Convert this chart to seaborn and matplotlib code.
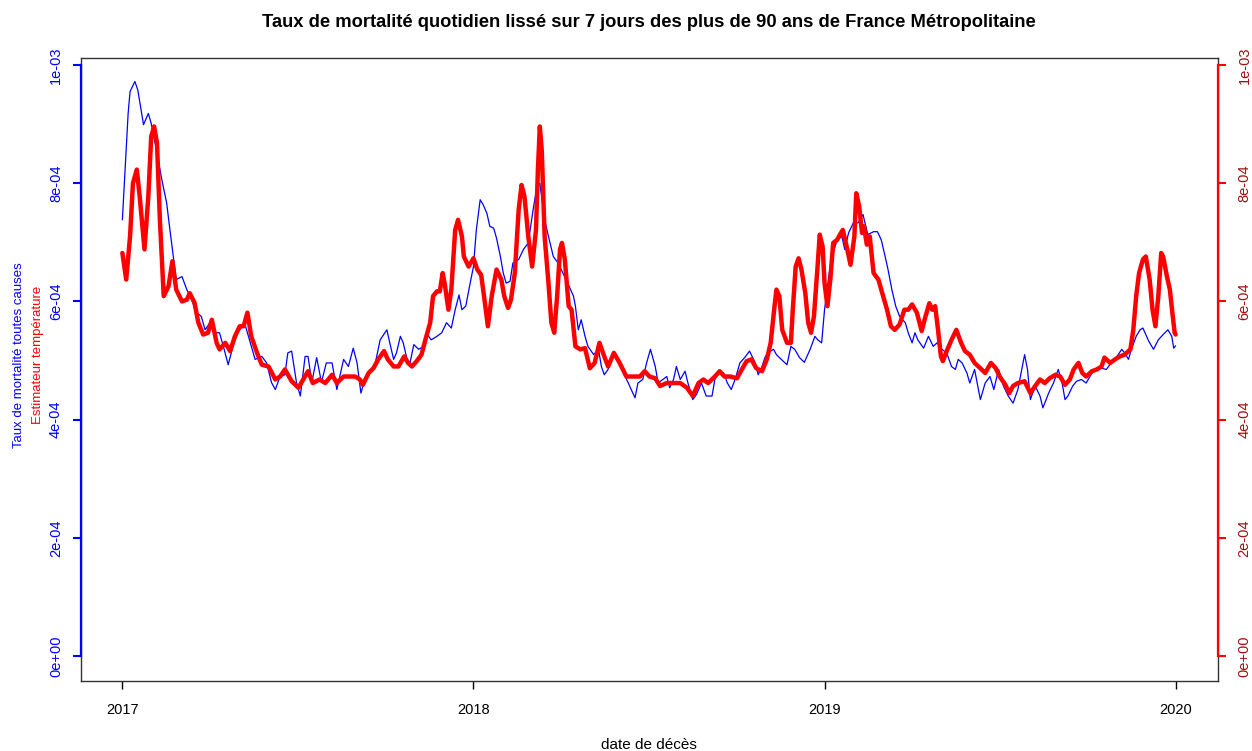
import pandas as pd
import numpy as np
import matplotlib
matplotlib.use('Agg')
import matplotlib.pyplot as plt
import matplotlib.dates as mdates
import seaborn as sns

# values, in units of 1e-4, days counted from 2017-01-01
SCALE = 1e-4
START = pd.Timestamp('2017-01-01')

mort_days = [0, 6, 8, 13, 16, 22, 27, 30, 36, 41, 46, 49, 53, 56, 62, 67, 72, 77, 82, 86,
             91, 96, 101, 105, 110, 115, 120, 127, 133, 138, 145, 150, 155, 159, 164, 169, 172, 176, 181, 185,
             190, 193, 197, 202, 207, 212, 218, 223, 230, 235, 240, 244, 248, 252, 257, 263, 268, 275, 278, 282,
             285, 289, 292, 296, 299, 303, 308, 313, 316, 321, 327, 332, 337, 342, 346, 350, 353, 357, 361, 365,
             368, 372, 375, 379, 382, 386, 389, 393, 396, 399, 403, 406, 412, 417, 422, 427, 431, 434, 439, 443,
             448, 453, 458, 463, 469, 471, 474, 477, 481, 484, 490, 495, 498, 501, 505, 510, 516, 521, 526, 529,
             533, 536, 541, 545, 549, 554, 557, 562, 566, 569, 573, 576, 580, 585, 588, 593, 597, 602, 607, 613,
             616, 621, 625, 629, 633, 637, 642, 647, 652, 658, 661, 665, 668, 671, 677, 680, 685, 691, 695, 699,
             704, 709, 715, 720, 723, 727, 730, 734, 737, 743, 748, 751, 755, 760, 765, 770, 775, 781, 785, 789,
             793, 796, 800, 804, 808, 814, 817, 821, 824, 827, 833, 838, 843, 847, 852, 857, 862, 866, 869, 873,
             878, 881, 886, 892, 897, 902, 906, 911, 916, 921, 926, 931, 935, 938, 941, 944, 949, 954, 957, 963,
             968, 973, 977, 980, 983, 988, 992, 997, 1002, 1008, 1013, 1018, 1023, 1028, 1034, 1039, 1042, 1046, 1049, 1054,
             1058, 1061, 1067, 1072, 1077, 1082, 1087, 1091, 1093, 1095]
mort_vals = [7.38, 9.18, 9.55, 9.72, 9.58, 8.99, 9.18, 9.01, 8.51, 8.06, 7.67, 7.27, 6.76, 6.37, 6.42, 6.20, 6.03, 5.81, 5.75, 5.52,
             5.64, 5.47, 5.47, 5.24, 4.93, 5.24, 5.47, 5.64, 5.30, 5.02, 5.07, 4.96, 4.63, 4.51, 4.73, 4.76, 5.13, 5.16, 4.63, 4.40,
             5.07, 5.07, 4.63, 5.05, 4.63, 4.96, 4.96, 4.51, 5.02, 4.90, 5.21, 4.96, 4.45, 4.68, 4.79, 4.96, 5.35, 5.52, 5.30, 5.02,
             5.13, 5.41, 5.30, 5.02, 4.96, 5.27, 5.19, 5.24, 5.47, 5.35, 5.41, 5.47, 5.64, 5.55, 5.86, 6.11, 5.86, 5.92, 6.26, 6.59,
             7.21, 7.72, 7.64, 7.49, 7.27, 7.24, 7.07, 6.76, 6.48, 6.31, 6.34, 6.65, 6.71, 6.88, 6.99, 7.55, 7.94, 8.00, 7.38, 7.10,
             6.76, 6.65, 6.48, 6.31, 6.09, 5.92, 5.52, 5.69, 5.41, 5.24, 5.10, 5.19, 4.90, 4.76, 4.85, 5.13, 4.96, 4.79, 4.62, 4.51,
             4.37, 4.62, 4.68, 4.96, 5.19, 4.90, 4.62, 4.68, 4.73, 4.54, 4.68, 4.90, 4.68, 4.82, 4.62, 4.34, 4.43, 4.62, 4.40, 4.40,
             4.68, 4.82, 4.79, 4.62, 4.51, 4.68, 4.96, 5.05, 5.16, 4.96, 4.76, 4.90, 5.05, 5.13, 5.19, 5.10, 5.02, 4.93, 5.24, 5.19,
             5.05, 4.97, 5.19, 5.41, 5.35, 5.30, 5.86, 6.37, 6.71, 7.04, 7.10, 6.88, 7.16, 7.33, 7.33, 7.47, 7.13, 7.18, 7.18, 7.04,
             6.76, 6.54, 6.20, 5.92, 5.75, 5.64, 5.47, 5.30, 5.47, 5.35, 5.21, 5.41, 5.24, 5.30, 5.19, 5.13, 4.90, 4.85, 5.02, 4.96,
             4.79, 4.62, 4.85, 4.34, 4.62, 4.73, 4.51, 4.85, 4.57, 4.40, 4.28, 4.51, 4.85, 5.10, 4.85, 4.34, 4.57, 4.40, 4.20, 4.45,
             4.62, 4.85, 4.62, 4.34, 4.40, 4.57, 4.65, 4.68, 4.62, 4.79, 4.85, 4.87, 4.85, 4.96, 5.07, 5.19, 5.13, 5.02, 5.19, 5.41,
             5.52, 5.55, 5.33, 5.19, 5.35, 5.44, 5.52, 5.41, 5.21, 5.25]

temp_days = [0, 4, 8, 11, 15, 18, 23, 27, 30, 33, 36, 39, 43, 48, 52, 56, 62, 67, 70, 75,
             79, 84, 89, 93, 98, 101, 107, 112, 117, 122, 126, 130, 134, 140, 145, 152, 159, 164, 169, 176,
             183, 188, 193, 198, 205, 211, 218, 223, 230, 237, 242, 247, 250, 256, 261, 266, 272, 276, 282, 287,
             293, 297, 301, 306, 311, 315, 320, 323, 327, 330, 333, 335, 339, 342, 346, 349, 353, 355, 360, 365,
             369, 373, 376, 380, 384, 389, 394, 397, 401, 404, 408, 412, 415, 418, 422, 426, 430, 432, 434, 436,
             439, 443, 446, 449, 452, 455, 457, 460, 464, 467, 471, 476, 481, 486, 491, 496, 501, 505, 511, 517,
             524, 531, 538, 543, 548, 554, 559, 566, 573, 580, 587, 593, 599, 604, 609, 616, 621, 626, 632, 639,
             644, 649, 654, 659, 665, 670, 674, 678, 680, 683, 686, 691, 695, 697, 700, 703, 706, 710, 713, 716,
             719, 723, 725, 728, 730, 733, 736, 739, 743, 746, 749, 753, 757, 761, 763, 766, 769, 771, 774, 777,
             781, 786, 790, 795, 799, 803, 808, 813, 817, 821, 826, 831, 835, 839, 842, 845, 848, 851, 853, 857,
             862, 867, 872, 876, 881, 886, 892, 897, 903, 908, 912, 918, 922, 926, 931, 938, 944, 949, 954, 959,
             964, 970, 975, 980, 985, 989, 994, 998, 1002, 1008, 1013, 1018, 1021, 1027, 1032, 1037, 1042, 1048, 1051, 1054,
             1057, 1061, 1064, 1068, 1071, 1074, 1077, 1080, 1082, 1086, 1089, 1092, 1094, 1095]
temp_vals = [6.82, 6.37, 7.10, 8.00, 8.23, 7.78, 6.88, 7.78, 8.79, 8.96, 8.68, 7.38, 6.09, 6.26, 6.68, 6.20, 6.00, 6.03, 6.14, 5.98,
             5.64, 5.44, 5.47, 5.69, 5.30, 5.19, 5.30, 5.16, 5.41, 5.58, 5.58, 5.81, 5.41, 5.13, 4.93, 4.90, 4.68, 4.73, 4.85, 4.65,
             4.54, 4.68, 4.82, 4.62, 4.68, 4.62, 4.76, 4.62, 4.73, 4.73, 4.73, 4.68, 4.59, 4.79, 4.87, 5.02, 5.16, 5.02, 4.90, 4.90,
             5.07, 4.96, 4.90, 4.99, 5.10, 5.35, 5.64, 6.09, 6.17, 6.17, 6.48, 6.31, 5.86, 6.20, 7.21, 7.38, 7.10, 6.76, 6.59, 6.73,
             6.54, 6.45, 6.09, 5.58, 6.09, 6.54, 6.37, 6.09, 5.89, 6.03, 6.48, 7.55, 7.97, 7.78, 7.10, 6.59, 7.21, 8.23, 8.96, 8.56,
             7.10, 6.31, 5.64, 5.47, 6.09, 6.88, 6.99, 6.71, 5.92, 5.86, 5.24, 5.19, 5.21, 4.87, 4.96, 5.30, 5.07, 4.90, 5.13, 4.96,
             4.73, 4.73, 4.73, 4.82, 4.73, 4.70, 4.57, 4.62, 4.62, 4.62, 4.54, 4.40, 4.62, 4.68, 4.62, 4.73, 4.82, 4.73, 4.73, 4.70,
             4.85, 4.99, 5.02, 4.87, 4.82, 5.02, 5.30, 5.92, 6.20, 6.09, 5.52, 5.30, 5.30, 5.86, 6.59, 6.73, 6.54, 6.14, 5.64, 5.47,
             5.75, 6.65, 7.13, 6.93, 6.31, 5.92, 6.37, 6.99, 7.04, 7.13, 7.21, 6.93, 6.62, 7.10, 7.83, 7.61, 7.16, 7.27, 6.96, 7.10,
             6.48, 6.37, 6.14, 5.86, 5.58, 5.52, 5.61, 5.86, 5.86, 5.95, 5.81, 5.50, 5.75, 5.97, 5.86, 5.92, 5.52, 5.07, 4.99, 5.16,
             5.35, 5.52, 5.30, 5.16, 5.10, 4.96, 4.87, 4.79, 4.96, 4.87, 4.73, 4.59, 4.45, 4.57, 4.62, 4.65, 4.45, 4.57, 4.68, 4.62,
             4.70, 4.76, 4.73, 4.59, 4.68, 4.85, 4.96, 4.79, 4.73, 4.82, 4.85, 4.90, 5.05, 4.96, 5.02, 5.07, 5.10, 5.19, 5.52, 6.09,
             6.48, 6.71, 6.76, 6.37, 5.86, 5.58, 6.09, 6.82, 6.76, 6.42, 6.20, 5.75, 5.47, 5.44]

y_ticks = [0, 2e-4, 4e-4, 6e-4, 8e-4, 1e-3]
y_tick_labels = ['0e+00', '2e-04', '4e-04', '6e-04', '8e-04', '1e-03']

mort = pd.DataFrame({'date': START + pd.to_timedelta(mort_days, unit='D'),
                     'taux': np.array(mort_vals) * SCALE})
temp = pd.DataFrame({'date': START + pd.to_timedelta(temp_days, unit='D'),
                     'taux': np.array(temp_vals) * SCALE})

sns.set_theme(style="white")
plt.rcParams['font.family'] = ['Liberation Sans', 'DejaVu Sans']
plt.rcParams['text.color'] = 'black'

fig = plt.figure(figsize=(12.52, 7.51), dpi=100)
ax = fig.add_axes([0.0647, 0.0932, 0.9081, 0.8296])

sns.lineplot(data=mort, x='date', y='taux', ax=ax, color='blue', linewidth=0.9)
sns.lineplot(data=temp, x='date', y='taux', ax=ax, color='red', linewidth=3.2)

ax.set_xlim(START - pd.Timedelta(days=43), pd.Timestamp('2020-01-01') + pd.Timedelta(days=44))
ax.set_ylim(-4.2e-5, 1.0118e-3)
ax.xaxis.set_major_locator(mdates.YearLocator())
ax.xaxis.set_major_formatter(mdates.DateFormatter('%Y'))
ax.set_xlabel('')
ax.set_ylabel('')

for s in ax.spines.values():
    s.set_color('#333333')
    s.set_linewidth(1.0)

ax.tick_params(axis='x', bottom=True, direction='out', length=6, width=1, color='black',
               labelsize=10.5, labelcolor='black', pad=10)
ax.set_yticks(y_ticks)
ax.set_yticklabels(y_tick_labels, rotation=90, va='center')
ax.tick_params(axis='y', left=True, direction='out', length=6, width=1.5, color='blue',
               labelsize=10.5, labelcolor='blue', pad=7)

# second axis only for the coloured axis lines and the right-hand ticks
ax2 = ax.twinx()
ax2.set_ylim(ax.get_ylim())
ax2.set_yticks(y_ticks)
ax2.set_yticklabels(y_tick_labels, rotation=90, va='center')
ax2.tick_params(axis='y', right=True, direction='out', length=6, width=1.5, color='red',
                labelsize=10.5, labelcolor='#a01010', pad=8)
for side in ['top', 'bottom']:
    ax2.spines[side].set_visible(False)
ax2.spines['left'].set_bounds(0, 1e-3)
ax2.spines['left'].set_color('blue')
ax2.spines['left'].set_linewidth(1.6)
ax2.spines['right'].set_bounds(0, 1e-3)
ax2.spines['right'].set_color('red')
ax2.spines['right'].set_linewidth(1.6)
ax2.grid(False)
ax.grid(False)

fig.text(0.5185, 0.9707, 'Taux de mortalité quotidien lissé sur 7 jours des plus de 90 ans de France Métropolitaine',
         ha='center', va='center', fontsize=13.2, fontweight='bold', color='black')
fig.text(0.5185, 0.008, 'date de décès', ha='center', va='center', fontsize=11, color='black')
fig.text(0.0155, 0.527, 'Taux de mortalité toutes causes', rotation=90, ha='center', va='center',
         color='blue', fontsize=9.5)
fig.text(0.0305, 0.527, 'Estimateur température', rotation=90, ha='center', va='center',
         color='red', fontsize=9.5)

plt.savefig('out.png', dpi=100)
